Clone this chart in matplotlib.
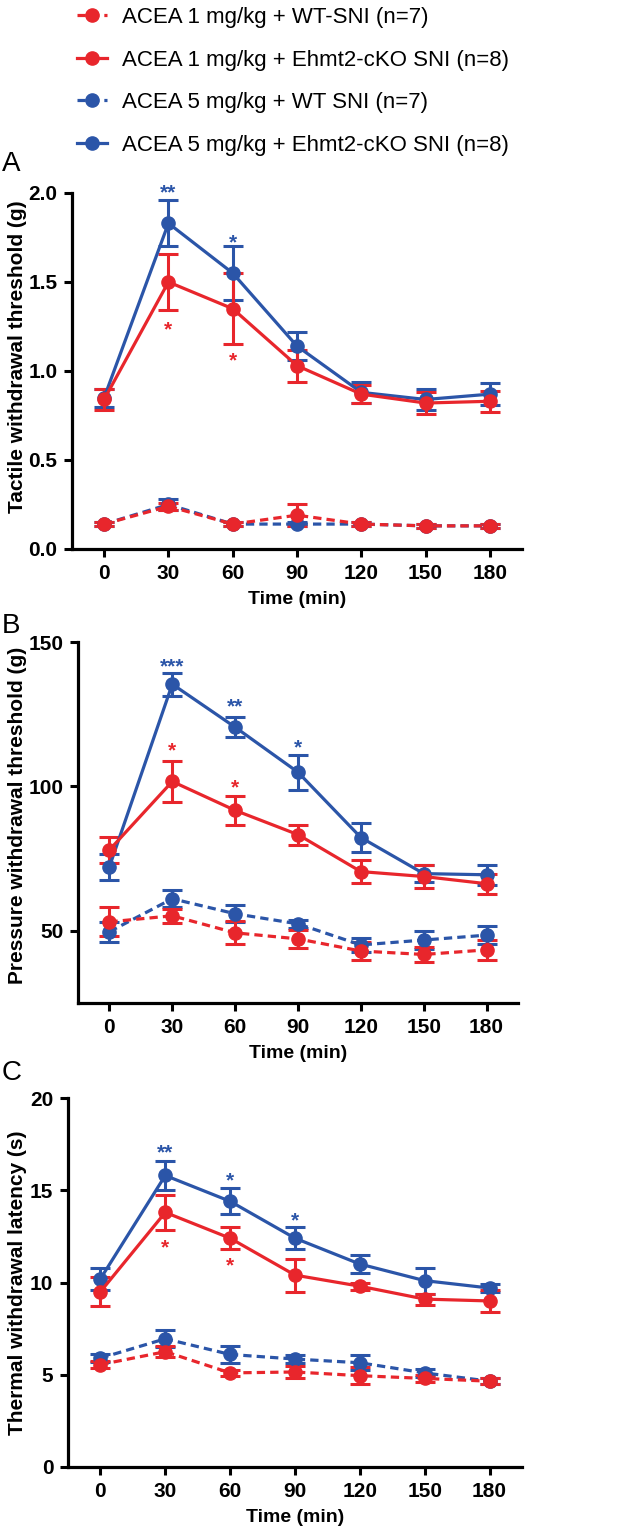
import matplotlib
matplotlib.use("Agg")
import matplotlib.pyplot as plt
import numpy as np

plt.rcParams['font.family'] = ['Liberation Sans', 'DejaVu Sans']

time = [0, 30, 60, 90, 120, 150, 180]
xticks = [0, 30, 60, 90, 120, 150, 180]

labels = ["ACEA 1 mg/kg + WT-SNI (n=7)",
          "ACEA 1 mg/kg + Ehmt2-cKO SNI (n=8)",
          "ACEA 5 mg/kg + WT SNI (n=7)",
          "ACEA 5 mg/kg + Ehmt2-cKO SNI (n=8)"]

# Panel A: tactile withdrawal threshold (g)
a_r1_wt = [0.14, 0.24, 0.14, 0.19, 0.14, 0.13, 0.13]
a_r1_wt_err = [0.01, 0.02, 0.01, 0.06, 0.01, 0.01, 0.01]
a_r1_ko = [0.84, 1.50, 1.35, 1.03, 0.87, 0.82, 0.83]
a_r1_ko_err = [0.06, 0.16, 0.20, 0.09, 0.05, 0.06, 0.06]
a_r5_wt = [0.14, 0.25, 0.14, 0.14, 0.14, 0.13, 0.13]
a_r5_wt_err = [0.01, 0.03, 0.01, 0.01, 0.01, 0.01, 0.01]
a_r5_ko = [0.85, 1.83, 1.55, 1.14, 0.88, 0.84, 0.87]
a_r5_ko_err = [0.05, 0.13, 0.15, 0.08, 0.06, 0.06, 0.06]

# Panel B: pressure withdrawal threshold (g)
b_r1_wt = [53.1, 55.2, 49.3, 47.2, 43.0, 41.8, 43.4]
b_r1_wt_err = [5.0, 2.5, 4.0, 3.0, 3.0, 2.5, 3.5]
b_r1_ko = [78.0, 101.7, 91.7, 83.3, 70.5, 68.8, 66.3]
b_r1_ko_err = [4.5, 7.0, 5.0, 3.5, 4.0, 4.0, 3.5]
b_r5_wt = [49.7, 61.1, 55.9, 52.4, 45.1, 46.8, 48.5]
b_r5_wt_err = [3.5, 3.0, 3.0, 1.5, 2.5, 3.0, 3.0]
b_r5_ko = [72.2, 135.4, 120.5, 104.9, 82.3, 69.8, 69.4]
b_r5_ko_err = [4.5, 4.0, 3.5, 6.0, 5.0, 3.0, 3.5]

# Panel C: thermal withdrawal latency (s)
c_r1_wt = [5.55, 6.25, 5.1, 5.15, 4.95, 4.8, 4.65]
c_r1_wt_err = [0.2, 0.3, 0.15, 0.35, 0.45, 0.2, 0.15]
c_r1_ko = [9.5, 13.8, 12.4, 10.4, 9.8, 9.1, 9.0]
c_r1_ko_err = [0.8, 0.95, 0.6, 0.9, 0.2, 0.3, 0.6]
c_r5_wt = [5.9, 6.95, 6.1, 5.85, 5.65, 5.1, 4.65]
c_r5_wt_err = [0.2, 0.45, 0.45, 0.2, 0.4, 0.2, 0.15]
c_r5_ko = [10.2, 15.8, 14.4, 12.4, 11.0, 10.1, 9.7]
c_r5_ko_err = [0.6, 0.8, 0.7, 0.6, 0.5, 0.7, 0.2]

RED = "#E8262C"
BLUE = "#2B55A8"

W, H = 633, 1537
fig = plt.figure(figsize=(W / 100, H / 100), dpi=100)

# (left, right, top, bottom) in pixels
boxes = [(72, 522, 193, 549), (78, 518, 642, 1003), (68, 522, 1098, 1467)]

panels = [
    dict(data=[(a_r5_wt, a_r5_wt_err, BLUE, '--'), (a_r5_ko, a_r5_ko_err, BLUE, '-'),
               (a_r1_wt, a_r1_wt_err, RED, '--'), (a_r1_ko, a_r1_ko_err, RED, '-')],
         ylim=(0, 2.0), yticks=[0.0, 0.5, 1.0, 1.5, 2.0], yfmt="{:.1f}",
         ylabel="Tactile withdrawal threshold (g)", letter="A", letter_y=171, ylab_y=0.54,
         stars=[(30, 2.0, "**", BLUE), (60, 1.72, "*", BLUE),
                (30, 1.23, "*", RED), (60, 1.055, "*", RED)]),
    dict(data=[(b_r5_wt, b_r5_wt_err, BLUE, '--'), (b_r5_ko, b_r5_ko_err, BLUE, '-'),
               (b_r1_wt, b_r1_wt_err, RED, '--'), (b_r1_ko, b_r1_ko_err, RED, '-')],
         ylim=(25, 150), yticks=[50, 100, 150], yfmt="{:.0f}",
         ylabel="Pressure withdrawal threshold (g)", letter="B", letter_y=633, ylab_y=0.52,
         stars=[(30, 141.5, "***", BLUE), (60, 127.5, "**", BLUE), (90, 113.5, "*", BLUE),
                (30, 112.3, "*", RED), (60, 99.5, "*", RED)]),
    dict(data=[(c_r5_wt, c_r5_wt_err, BLUE, '--'), (c_r5_ko, c_r5_ko_err, BLUE, '-'),
               (c_r1_wt, c_r1_wt_err, RED, '--'), (c_r1_ko, c_r1_ko_err, RED, '-')],
         ylim=(0, 20), yticks=[0, 5, 10, 15, 20], yfmt="{:.0f}",
         ylabel="Thermal withdrawal latency (s)", letter="C", letter_y=1080, ylab_y=0.5,
         stars=[(30, 17.0, "**", BLUE), (60, 15.5, "*", BLUE), (90, 13.35, "*", BLUE),
                (30, 11.85, "*", RED), (60, 10.9, "*", RED)]),
]

handles = {}
for i, (box, p) in enumerate(zip(boxes, panels)):
    l, r, t, b = box
    ax = fig.add_axes([l / W, 1 - b / H, (r - l) / W, (b - t) / H])
    for (vals, errs, col, ls) in p['data']:
        eb = ax.errorbar(time, vals, yerr=errs, color=col, ls=ls, lw=2.3,
                         marker='o', ms=9.5, capsize=7, capthick=2.2, elinewidth=2.2,
                         dashes=(2.6, 1.6) if ls == '--' else (None, None))
        if ls == '--':
            eb[-1][0].set_linestyle('-')
        if i == 0:
            handles[(col, ls)] = eb[0]
    for (x, y, s, col) in p['stars']:
        ax.text(x, y, s, color=col, ha='center', va='center', fontsize=15,
                fontweight='bold', clip_on=False)
    ax.set_xlim(-15, 195)
    ax.set_ylim(*p['ylim'])
    ax.set_xticks(xticks)
    ax.set_xticklabels([str(tk) for tk in xticks])
    ax.set_yticks(p['yticks'])
    ax.set_yticklabels([p['yfmt'].format(v) for v in p['yticks']])
    for s in ['top', 'right']:
        ax.spines[s].set_visible(False)
    for s in ['left', 'bottom']:
        ax.spines[s].set_linewidth(2.3)
    ax.tick_params(width=2.2, length=5.5, labelsize=15, pad=5)
    for lab in ax.get_xticklabels() + ax.get_yticklabels():
        lab.set_fontweight('bold')
    ax.set_xlabel("Time (min)", fontsize=14, fontweight='bold', labelpad=6)
    ax.set_ylabel(p['ylabel'], fontsize=15, fontweight='bold')
    ax.yaxis.set_label_coords((27 - l) / (r - l), p['ylab_y'])
    fig.text(2 / W, 1 - p['letter_y'] / H, p['letter'], fontsize=20,
             ha='left', va='baseline')

leg_handles = [handles[(RED, '--')], handles[(RED, '-')], handles[(BLUE, '--')], handles[(BLUE, '-')]]
fig.legend(leg_handles, labels, loc='upper left', bbox_to_anchor=(77 / W, 1 - 7 / H),
           frameon=False, fontsize=16, handlelength=1.35, handletextpad=0.68,
           labelspacing=0.97, borderpad=0.0, borderaxespad=0.0)

fig.savefig("out.png", dpi=100)
